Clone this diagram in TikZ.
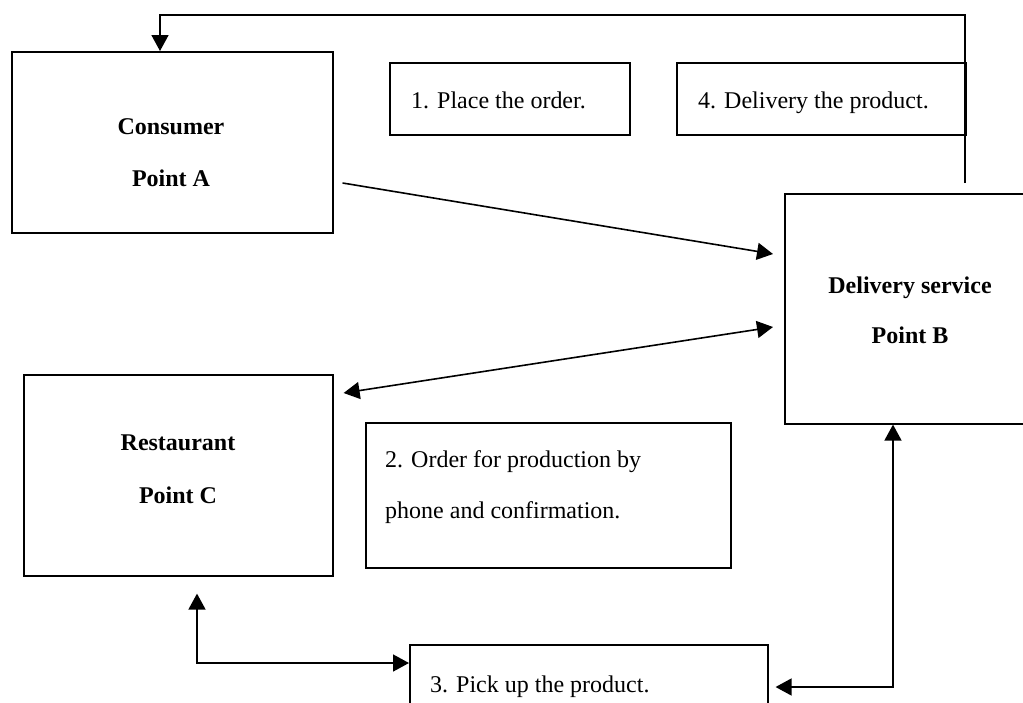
\documentclass[tikz,border=0pt]{standalone}
\usepackage{fontspec}
\setmainfont{Liberation Serif}
\usetikzlibrary{arrows.meta,calc}
\begin{document}
\begin{tikzpicture}[x=1pt,y=-1pt,
  box/.style={draw,line width=1.6pt,inner sep=0pt,anchor=north west},
  title/.style={inner sep=0pt,anchor=base,font=\fontsize{24}{24}\selectfont\bfseries},
  txt/.style={inner sep=0pt,anchor=base west,font=\fontsize{24}{24}\selectfont},
  arr/.style={line width=1.6pt,-{Triangle[length=16pt,width=17pt]}},
  dbl/.style={line width=1.6pt,{Triangle[length=16pt,width=17pt]}-{Triangle[length=16pt,width=17pt]}}]
\useasboundingbox (0,0) rectangle (1023,702);
\clip (0,0) rectangle (1023,702);

% participants
\node[box,minimum width=321pt,minimum height=181pt] (consumer) at (11,51) {};
\node[box,minimum width=252pt,minimum height=230pt] (delivery) at (784,193) {};
\node[box,minimum width=309pt,minimum height=201pt] (restaurant) at (23,374) {};

% step boxes
\node[box,minimum width=240pt,minimum height=72pt] (s1) at (389,62) {};
\node[box,minimum width=289pt,minimum height=72pt] (s4) at (676,62) {};
\node[box,minimum width=365pt,minimum height=145pt] (s2) at (365,422) {};
\node[box,minimum width=358pt,minimum height=90pt] (s3) at (409,644) {};

% labels
\node[title] (consumerA) at (171,134) {Consumer};
\node[title] (consumerB) at (171,186) {Point A};
\node[title] (deliveryA) at (910,293) {Delivery service};
\node[title] (deliveryB) at (910,343) {Point B};
\node[title] (restaurantA) at (178,450) {Restaurant};
\node[title] (restaurantB) at (178,503) {Point C};
\node[txt] (s1t) at (411,108) {1. Place the order.};
\node[txt] (s4t) at (698,108) {4. Delivery the product.};
\node[txt] (s2a) at (385,467) {2. Order for production by};
\node[txt] (s2b) at (385,518) {phone and confirmation.};
\node[txt] (s3t) at (430,692) {3. Pick up the product.};

% connector end points
\coordinate (aStart) at ($(consumer.north east)+(9,132)$);
\coordinate (aEnd) at ($(delivery.north west)+(-11,61)$);
\coordinate (bLeft) at ($(restaurant.north east)+(10,19)$);
\coordinate (bRight) at ($(delivery.north west)+(-11,134)$);
\coordinate (dTop) at ($(delivery.north west)+(181,-10)$);
\coordinate (cTop) at ($(consumer.north west)+(149,0)$);
\coordinate (rBelow) at ($(restaurant.south west)+(174,17)$);
\coordinate (s3Left) at ($(s3.north west)+(0,19)$);
\coordinate (dBottom) at ($(delivery.south west)+(109,0)$);
\coordinate (s3Right) at ($(s3.north east)+(7,43)$);

% connectors
\draw[arr] (aStart) -- (aEnd);
\draw[dbl] (bLeft) -- (bRight);
\draw[arr] (dTop) -- ++(0,-168) -| (cTop);
\draw[dbl] (rBelow) |- (s3Left);
\draw[dbl] (dBottom) |- (s3Right);
\end{tikzpicture}
\end{document}
